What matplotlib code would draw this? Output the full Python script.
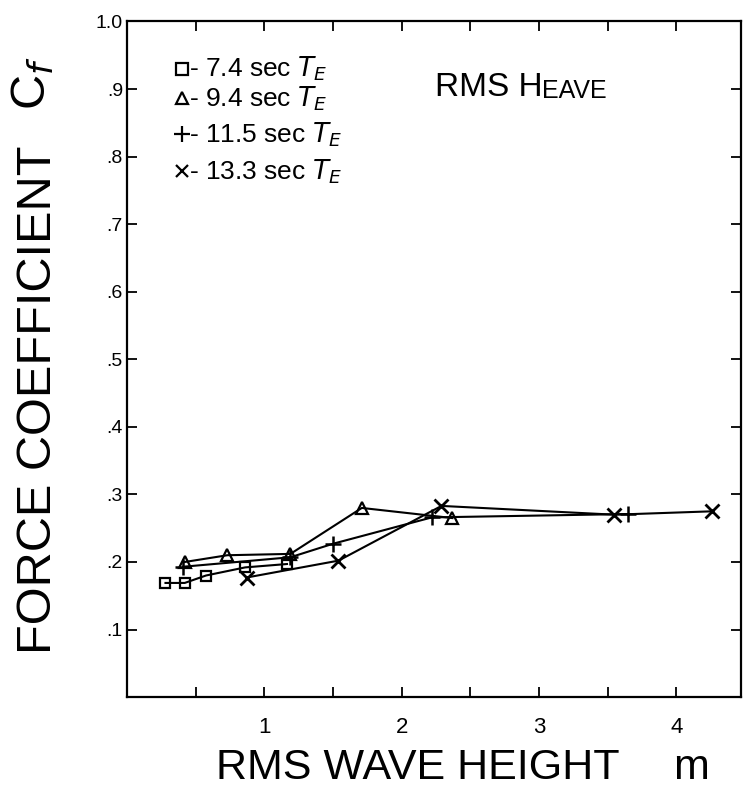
import matplotlib.pyplot as plt
from matplotlib.ticker import MultipleLocator, FixedLocator

# RMS wave height (m) vs force coefficient Cf, one series per encounter period
x_74 = [0.28, 0.42, 0.575, 0.86, 1.165]
y_74 = [0.169, 0.169, 0.180, 0.192, 0.197]

x_94 = [0.42, 0.73, 1.19, 1.71, 2.37]
y_94 = [0.200, 0.210, 0.212, 0.280, 0.265]

x_115 = [0.41, 1.19, 1.50, 2.22, 3.65]
y_115 = [0.193, 0.207, 0.227, 0.266, 0.271]

x_133 = [0.87, 1.54, 2.29, 3.55, 4.26]
y_133 = [0.177, 0.202, 0.283, 0.270, 0.275]

legend_labels = ["7.4 sec", "9.4 sec", "11.5 sec", "13.3 sec"]
x_ticks = [1, 2, 3, 4]
y_ticks = [0.1, 0.2, 0.3, 0.4, 0.5, 0.6, 0.7, 0.8, 0.9, 1.0]
y_ticklabels = [".1", ".2", ".3", ".4", ".5", ".6", ".7", ".8", ".9", "1.0"]

FONT = "Liberation Sans"

fig = plt.figure(figsize=(7.43, 7.94), dpi=100)
ax = fig.add_axes([0.171, 0.122, 0.826, 0.851])

ln = dict(color="black", linewidth=1.5)
ax.plot(x_74, y_74, marker="s", ms=7.5, mfc="none", mec="black", mew=1.6, **ln)
ax.plot(x_94, y_94, marker="^", ms=8, mfc="none", mec="black", mew=1.6, **ln)
ax.plot(x_115, y_115, marker="+", ms=12, mec="black", mew=1.8, **ln)
ax.plot(x_133, y_133, marker="x", ms=10, mec="black", mew=2.0, **ln)

ax.set_xlim(0, 4.47)
ax.set_ylim(0, 1.0)
ax.xaxis.set_major_locator(FixedLocator(x_ticks))
ax.xaxis.set_minor_locator(MultipleLocator(0.5))
ax.set_xticklabels([str(t) for t in x_ticks], fontsize=16, family=FONT)
ax.yaxis.set_major_locator(FixedLocator(y_ticks))
ax.set_yticklabels(y_ticklabels, fontsize=14, family=FONT)
ax.tick_params(which="both", direction="in", top=True, right=True,
               length=7, width=1.3)
ax.tick_params(axis="x", pad=14)
ax.tick_params(axis="y", pad=3)
for s in ax.spines.values():
    s.set_linewidth(1.6)

# hand-lettered axis titles
fig.text(0.052, 0.496, "FORCE COEFFICIENT", rotation=90, ha="center", va="center",
         fontsize=35, family=FONT)
fig.text(0.045, 0.895, r"C$_f$", rotation=90, ha="center", va="center",
         fontsize=35, family=FONT)
fig.text(0.5626, 0.033, "RMS WAVE HEIGHT", ha="center", va="center",
         fontsize=31, family=FONT)
fig.text(0.93, 0.033, "m", ha="center", va="center",
         fontsize=31, family=FONT)

# legend drawn by hand like the original
markers = [("s", 8), ("^", 8.5), ("+", 12), ("x", 9)]
leg_y = [0.930, 0.886, 0.833, 0.778]
for (m, ms), yy, lab in zip(markers, leg_y, legend_labels):
    kw = dict(mfc="none") if m in ("s", "^") else {}
    ax.plot([0.40], [yy], marker=m, ms=ms, color="black", mew=1.6,
            clip_on=False, **kw)
    ax.text(0.45, yy, "- " + lab + r" $T_E$", fontsize=19, va="center",
            ha="left", family=FONT)

t1 = ax.text(2.24, 0.879, "RMS H", fontsize=24, va="bottom", ha="left",
             family=FONT)
ax.annotate("EAVE", xy=(1, 0), xycoords=t1, va="bottom", ha="left",
            fontsize=18, family=FONT)

fig.savefig("out.png", dpi=100)
